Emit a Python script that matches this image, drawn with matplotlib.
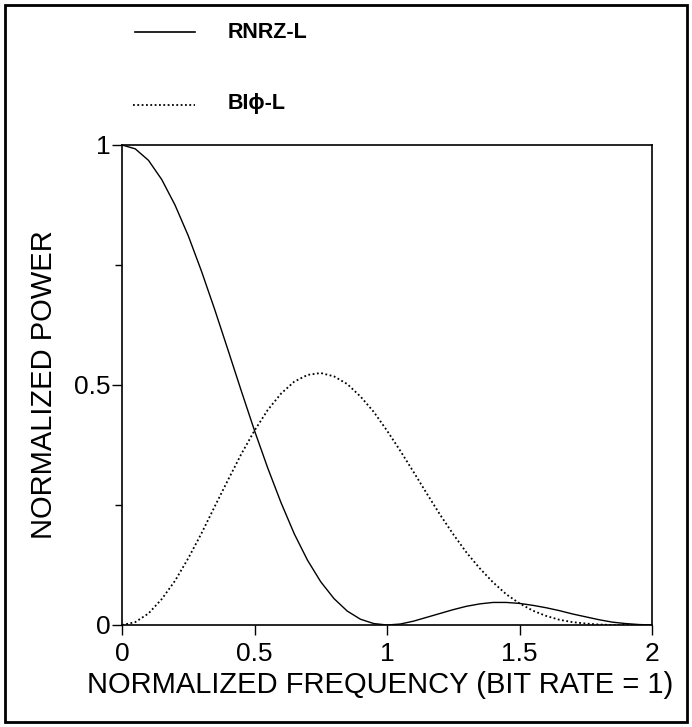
import numpy as np
import matplotlib.pyplot as plt
from matplotlib.patches import Rectangle

plt.rcParams['font.family'] = ['Liberation Sans', 'DejaVu Sans']

# frequencia normalizada (passo 0.05)
freq = np.arange(41) * 0.05

# RNRZ-L (linha cheia)
rnrz = [1.000, 0.992, 0.968, 0.928, 0.875, 0.811, 0.737, 0.657, 0.573, 0.488,
        0.405, 0.327, 0.255, 0.190, 0.135, 0.090, 0.055, 0.029, 0.012, 0.003,
        0.000, 0.002, 0.008, 0.016, 0.024, 0.032, 0.039, 0.044, 0.047, 0.047,
        0.045, 0.041, 0.036, 0.030, 0.023, 0.017, 0.011, 0.006, 0.003, 0.001,
        0.000]

# BI-phi-L (pontilhada)
biphase = [0.000, 0.006, 0.024, 0.054, 0.092, 0.139, 0.191, 0.247, 0.302, 0.356,
           0.405, 0.448, 0.482, 0.507, 0.521, 0.525, 0.518, 0.502, 0.476, 0.444,
           0.405, 0.363, 0.319, 0.274, 0.230, 0.189, 0.151, 0.118, 0.089, 0.064,
           0.045, 0.030, 0.019, 0.011, 0.006, 0.003, 0.001, 0.000, 0.000, 0.000,
           0.000]

xticks = [0, 0.5, 1, 1.5, 2]
xticklabels = ['0', '0.5', '1', '1.5', '2']
yticks = [0, 0.5, 1]
yticklabels = ['0', '0.5', '1']

fig = plt.figure(figsize=(6.92, 7.27), dpi=100)
ax = fig.add_axes([122 / 692, 1 - 625 / 727, 530 / 692, 480 / 727])

ax.plot(freq, rnrz, color='black', lw=1.0)
ax.plot(freq, biphase, color='black', lw=1.3, linestyle=(0, (1, 1.4)))

ax.set_xlim(0, 2)
ax.set_ylim(0, 1)
ax.set_xticks(xticks)
ax.set_xticklabels(xticklabels)
ax.set_yticks(yticks)
ax.set_yticklabels(yticklabels)
ax.set_yticks([0.25, 0.75], minor=True)
ax.tick_params(axis='both', which='major', length=7, width=1, labelsize=19, direction='out')
ax.tick_params(axis='x', which='major', pad=5)
ax.tick_params(axis='y', which='major', pad=1)
ax.tick_params(axis='y', which='minor', length=5, width=1, direction='out')
for s in ax.spines.values():
    s.set_linewidth(1.2)

ax.set_xlabel('NORMALIZED FREQUENCY (BIT RATE = 1)', fontsize=21)
ax.set_ylabel('NORMALIZED POWER', fontsize=21)
ax.xaxis.set_label_coords(0.487, -0.096)
ax.yaxis.set_label_coords(-0.12, 0.5)

# legenda no topo, fora dos eixos
fig.add_artist(plt.Line2D([135 / 692, 195 / 692], [1 - 32 / 727] * 2, color='black', lw=1.2))
fig.text(228 / 692, 1 - 32 / 727, 'RNRZ-L', fontsize=15.5, fontweight='bold', va='center')
fig.add_artist(plt.Line2D([133 / 692, 195 / 692], [1 - 105 / 727] * 2, color='black', lw=1.3,
                          linestyle=(0, (1, 1.4))))
fig.text(228 / 692, 1 - 104 / 727, 'BI\u03d5-L', fontsize=15.5, fontweight='bold', va='center')

# moldura
fig.add_artist(Rectangle((5 / 692, 5 / 727), 682 / 692, 717 / 727, fill=False,
                         edgecolor='black', lw=2, transform=fig.transFigure))

plt.savefig('out.png', dpi=100)
